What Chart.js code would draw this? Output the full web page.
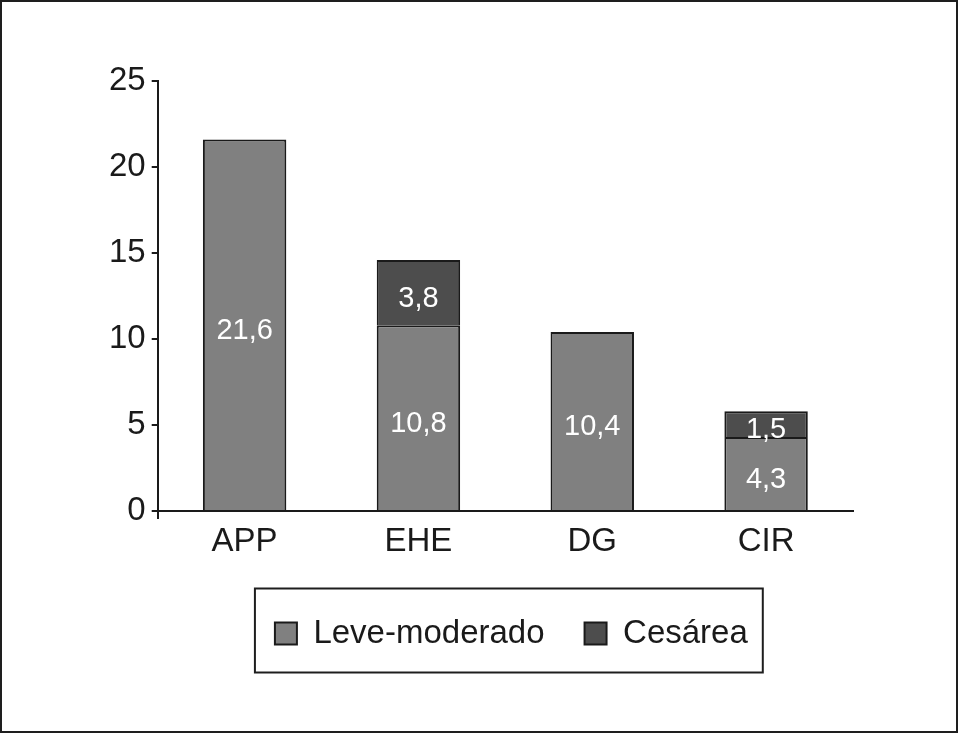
<!DOCTYPE html>
<html>
<head>
<meta charset="utf-8">
<script src="https://cdn.jsdelivr.net/npm/chart.js@4"></script>
<style>
html,body{margin:0;padding:0;background:#fff;}
#wrap{position:relative;width:958px;height:733px;}
#frame{position:absolute;left:0;top:0;width:958px;height:733px;box-sizing:border-box;border:2px solid #1e1e1e;pointer-events:none;}
canvas{position:absolute;left:0;top:0;}
</style>
</head>
<body>
<div id="wrap">
<canvas id="myChart" width="958" height="733"></canvas>
<div id="frame"></div>
</div>
<script>
var categories=["APP","EHE","DG","CIR"];
var leveModerado=[21.6,10.8,10.4,4.3];
var cesarea=[null,3.8,null,1.5];
var yTicks=[0,5,10,15,20,25];

var fontFam='"Liberation Sans", Arial, Helvetica, sans-serif';
Chart.defaults.font.family=fontFam;
Chart.defaults.color='#1a1a1a';

// white value labels inside each bar segment
var barLabels={
id:'barLabels',
afterDatasetsDraw:function(chart){
var ctx=chart.ctx;
ctx.save();
ctx.fillStyle='#fff';
ctx.font='29px '+fontFam;
ctx.textAlign='center';
ctx.textBaseline='middle';
chart.data.datasets.forEach(function(ds,i){
var meta=chart.getDatasetMeta(i);
meta.data.forEach(function(bar,j){
var v=ds.data[j];
if(v===null||v===undefined)return;
ctx.fillText(v.toFixed(1).replace('.',','),bar.x,(bar.y+bar.base)/2+6);
});
});
ctx.restore();
}
};

// nudge legend a bit right, then frame it
var legendBox={
id:'legendBox',
afterLayout:function(chart){
var lg=chart.legend;
if(!lg)return;
lg.left+=6;
lg.right+=6;
},
afterDraw:function(chart){
var lg=chart.legend;
if(!lg||!lg.legendHitBoxes.length)return;
var hb=lg.legendHitBoxes;
var first=hb[0],last=hb[hb.length-1];
var cy=first.top+first.height/2;
var ctx=chart.ctx;
ctx.save();
ctx.strokeStyle='#1e1e1e';
ctx.lineWidth=2;
ctx.strokeRect(first.left-20,cy-45,(last.left+last.width)-first.left+20+15,84);
ctx.restore();
}
};

var chart=new Chart(document.getElementById('myChart'),{
type:'bar',
data:{
labels:categories,
datasets:[{
label:'Leve-moderado',
data:leveModerado,
backgroundColor:'#808080',
borderColor:'#1a1a1a',
borderWidth:2
},{
label:'Cesárea',
data:cesarea,
backgroundColor:'#4d4d4d',
borderColor:'#1a1a1a',
borderWidth:2
}]
},
options:{
responsive:false,
animation:false,
layout:{padding:{left:103,right:105,top:81,bottom:73}},
datasets:{bar:{categoryPercentage:1,barPercentage:0.48}},
plugins:{
tooltip:{enabled:false},
legend:{
display:true,
position:'bottom',
fullSize:false,
labels:{
boxWidth:22,
boxHeight:22,
padding:40,
color:'#1a1a1a',
font:{size:33}
}
}
},
scales:{
x:{
stacked:true,
afterFit:function(axis){axis.height=66;},
border:{color:'#1a1a1a',width:2},
grid:{
offset:true,
drawOnChartArea:false,
tickLength:8,
lineWidth:2,
tickColor:function(c){return (c.index===0||c.index===categories.length)?'#1a1a1a':'rgba(0,0,0,0)';}
},
ticks:{color:'#1a1a1a',font:{size:33},padding:3}
},
y:{
stacked:true,
min:0,
max:25,
afterBuildTicks:function(axis){axis.ticks=yTicks.map(function(v){return {value:v};});},
border:{color:'#1a1a1a',width:2},
grid:{drawOnChartArea:false,tickLength:6,lineWidth:2,tickColor:'#1a1a1a'},
ticks:{color:'#1a1a1a',font:{size:33},padding:6}
}
}
},
plugins:[barLabels,legendBox]
});
</script>
</body>
</html>
